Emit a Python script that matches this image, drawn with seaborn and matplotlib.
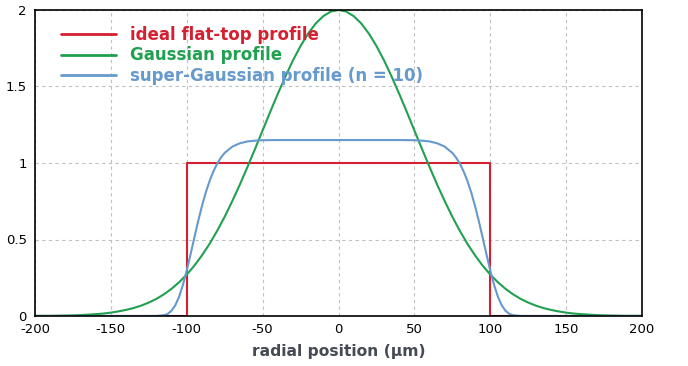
import matplotlib
matplotlib.use("Agg")
import matplotlib.pyplot as plt
import seaborn as sns
import pandas as pd

# ---- data ----
flat_x = [-200, -100, -100, 100, 100, 200]
flat_y = [0, 0, 1, 1, 0, 0]

gauss_x = [-200, -195, -190, -185, -180, -175, -170, -165, -160, -155, -150, -145, -140,
           -135, -130, -125, -120, -115, -110, -105, -100, -95, -90, -85, -80, -75, -70,
           -65, -60, -55, -50, -45, -40, -35, -30, -25, -20, -15, -10, -5, 0,
           5, 10, 15, 20, 25, 30, 35, 40, 45, 50, 55, 60, 65, 70, 75, 80, 85, 90, 95,
           100, 105, 110, 115, 120, 125, 130, 135, 140, 145, 150, 155, 160, 165, 170,
           175, 180, 185, 190, 195, 200]
gauss_y = [0.001, 0.001, 0.001, 0.002, 0.003, 0.004, 0.006, 0.009, 0.012, 0.016, 0.022,
           0.030, 0.040, 0.052, 0.068, 0.088, 0.112, 0.142, 0.178, 0.221, 0.271, 0.329,
           0.396, 0.471, 0.556, 0.649, 0.751, 0.859, 0.974, 1.092, 1.213, 1.334, 1.452,
           1.565, 1.671, 1.765, 1.846, 1.912, 1.960, 1.990, 2.000,
           1.990, 1.960, 1.912, 1.846, 1.765, 1.671, 1.565, 1.452, 1.334, 1.213, 1.092,
           0.974, 0.859, 0.751, 0.649, 0.556, 0.471, 0.396, 0.329, 0.271, 0.221, 0.178,
           0.142, 0.112, 0.088, 0.068, 0.052, 0.040, 0.030, 0.022, 0.016, 0.012, 0.009,
           0.006, 0.004, 0.003, 0.002, 0.001, 0.001, 0.001]

sg_x = [-200, -150, -125, -120, -115, -112.5, -110, -107.5, -105, -102.5, -100, -97.5,
        -95, -92.5, -90, -87.5, -85, -82.5, -80, -77.5, -75, -70, -65, -60, -55, -50,
        -40, 0, 40, 50, 55, 60, 65, 70, 75, 77.5, 80, 82.5, 85, 87.5, 90, 92.5, 95,
        97.5, 100, 102.5, 105, 107.5, 110, 112.5, 115, 120, 125, 150, 200]
sg_y = [0, 0, 0, 0.0003, 0.005, 0.014, 0.035, 0.071, 0.127, 0.204, 0.298, 0.403,
        0.512, 0.619, 0.718, 0.806, 0.881, 0.944, 0.995, 1.035, 1.066, 1.107, 1.129,
        1.141, 1.146, 1.149, 1.15, 1.15, 1.15, 1.149, 1.146, 1.141, 1.129, 1.107,
        1.066, 1.035, 0.995, 0.944, 0.881, 0.806, 0.718, 0.619, 0.512, 0.403, 0.298,
        0.204, 0.127, 0.071, 0.035, 0.014, 0.005, 0.0003, 0, 0, 0]

labels = ["ideal flat-top profile", "Gaussian profile", "super-Gaussian profile (n = 10)"]
colors = ["#d42030", "#20a050", "#6699cc"]
x_ticks = [-200, -150, -100, -50, 0, 50, 100, 150, 200]
y_ticks = [0, 0.5, 1, 1.5, 2]
y_tick_labels = ["0", "0.5", "1", "1.5", "2"]
x_label = "radial position (µm)"

sns.set_style("white")
plt.rcParams["font.family"] = ["DejaVu Sans"]

W, H = 688, 366
fig = plt.figure(figsize=(W / 100, H / 100), dpi=100)
ax = fig.add_axes([35 / W, 1 - 316 / H, 607 / W, 306 / H])

for xs, ys, lab, col in [(flat_x, flat_y, labels[0], colors[0]),
                         (gauss_x, gauss_y, labels[1], colors[1]),
                         (sg_x, sg_y, labels[2], colors[2])]:
    df = pd.DataFrame({"x": xs, "y": ys})
    sns.lineplot(data=df, x="x", y="y", ax=ax, color=col, lw=1.5, label=lab,
                 estimator=None, sort=False)

ax.set_xlim(-200, 200)
ax.set_ylim(0, 2)
ax.set_xticks(x_ticks)
ax.set_xticklabels([str(t) for t in x_ticks])
ax.set_yticks(y_ticks)
ax.set_yticklabels(y_tick_labels)
ax.grid(True, color="#c0c0c0", linestyle=(0, (3, 3)), linewidth=0.8)
for s in ax.spines.values():
    s.set_color("black")
    s.set_linewidth(1.2)
ax.tick_params(axis="x", direction="in", length=3, width=1, labelsize=9.5, pad=5,
               colors="black", top=False)
ax.tick_params(axis="y", direction="in", length=3, width=1, labelsize=9.5, pad=6,
               colors="black")
ax.set_xlabel(x_label, fontsize=11.2, fontweight="bold", color="#454a55", labelpad=6)
ax.set_ylabel("")

leg = ax.legend(loc="upper left", bbox_to_anchor=(26 / 607, 1 - 16 / 306), frameon=False,
                handlelength=3.3, handletextpad=0.85, labelspacing=0.15,
                prop={"weight": "bold", "size": 12}, borderaxespad=0, borderpad=0)
for t, c in zip(leg.get_texts(), colors):
    t.set_color(c)
for h in leg.get_lines():
    h.set_linewidth(2)

fig.savefig("out.png", dpi=100)
